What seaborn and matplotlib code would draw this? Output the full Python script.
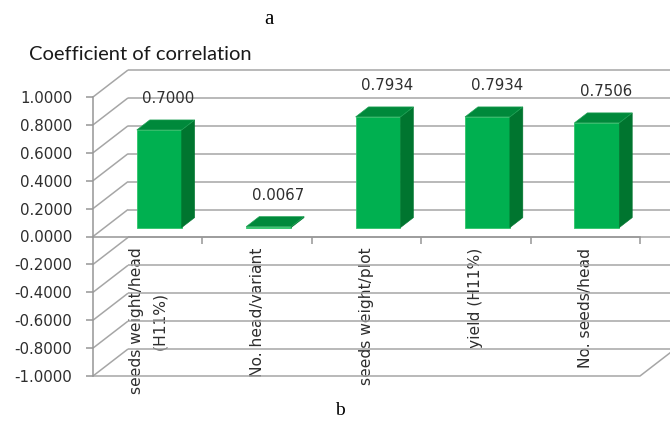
import numpy as np
import pandas as pd
import seaborn as sns
import matplotlib
matplotlib.use("Agg")
import matplotlib.pyplot as plt
from matplotlib.patches import Polygon
from matplotlib.transforms import Affine2D
from matplotlib.ticker import FixedLocator, FormatStrFormatter

# ---- data -----------------------------------------------------------------
categories = ["seeds weight/head\n(H11%)", "No. head/variant", "seeds weight/plot",
              "yield (H11%)", "No. seeds/head"]
correlation = [0.7000, 0.0067, 0.7934, 0.7934, 0.7506]
y_ticks = [-1.0, -0.8, -0.6, -0.4, -0.2, 0.0, 0.2, 0.4, 0.6, 0.8, 1.0]

# ---- style ----------------------------------------------------------------
sns.set_theme(style="white")
plt.rcParams["font.family"] = ["DejaVu Sans"]
plt.rcParams["axes.unicode_minus"] = False

FRONT = "#00B050"
SIDE = "#00752F"
TOP = "#00893B"
GRID = "#A6A6A6"
AXIS = "#969696"
TEXT = "#2E2E2E"

# pseudo-3D depth offset in data units (x: categories, y: value)
DX, DY = 0.32, 0.1935
F0, F1 = 0.33, 0.70   # front / back depth of the columns

fig = plt.figure(figsize=(6.7, 4.21), dpi=100)
ax = fig.add_axes([93 / 670, (421 - 376) / 421, 547 / 670, 279 / 421])

df = pd.DataFrame({"trait": categories, "r": correlation})
sns.barplot(data=df, x="trait", y="r", order=categories, color=FRONT,
            width=0.41, saturation=1, ax=ax, zorder=5)

ax.set_xlim(-0.5, len(categories) - 0.5)
ax.set_ylim(-1, 1)
ax.set_xlabel("")
ax.set_ylabel("")

# walls: back-wall gridlines and side-wall diagonals
x_left, x_right = -0.5, len(categories) - 0.5
for v in y_ticks:
    ax.plot([x_left, x_left + DX], [v, v + DY], color=GRID, lw=1.1,
            clip_on=False, zorder=1, solid_capstyle="butt")
    ax.plot([x_left + DX, x_right + DX + 0.5], [v + DY, v + DY], color=GRID,
            lw=1.1, clip_on=False, zorder=1, solid_capstyle="butt")
# floor edge at the axis minimum
ax.plot([x_left, x_right, x_right + DX], [-1, -1, -1 + DY], color=GRID, lw=1.1,
        clip_on=False, zorder=1)

# columns: shift the front faces into depth, then add side and top faces
d = F1 - F0
shift = Affine2D().translate(F0 * DX, F0 * DY)
for p in ax.patches:
    x0, w, h = p.get_x(), p.get_width(), p.get_height()
    p.set_transform(shift + ax.transData)
    p.set_edgecolor("#2FC46A")
    p.set_linewidth(0.6)
    p.set_clip_on(False)
    x0s, x1s, b = x0 + F0 * DX, x0 + w + F0 * DX, F0 * DY
    side = Polygon([(x1s, b), (x1s + d * DX, b + d * DY),
                    (x1s + d * DX, b + h + d * DY), (x1s, b + h)],
                   closed=True, facecolor=SIDE, edgecolor=SIDE, lw=0.4,
                   zorder=5, clip_on=False)
    top = Polygon([(x0s, b + h), (x0s + d * DX, b + h + d * DY),
                   (x1s + d * DX, b + h + d * DY), (x1s, b + h)],
                  closed=True, facecolor=TOP, edgecolor="#1FA255", lw=0.5,
                  zorder=6, clip_on=False)
    ax.add_patch(side)
    ax.add_patch(top)

# value labels
for i, v in enumerate(correlation):
    ax.text(i + 0.19, v + 0.29, f"{v:.4f}", ha="center", va="center",
            fontsize=10.8, color=TEXT, zorder=7, clip_on=False)

# axes: value axis on the left, category axis crossing at zero
for s in ["top", "right"]:
    ax.spines[s].set_visible(False)
ax.spines["left"].set_color(AXIS)
ax.spines["left"].set_linewidth(1.1)
ax.spines["bottom"].set_position(("data", 0))
ax.spines["bottom"].set_color(AXIS)
ax.spines["bottom"].set_linewidth(1.1)
ax.spines["bottom"].set_zorder(2)

ax.yaxis.set_major_locator(FixedLocator(y_ticks))
ax.yaxis.set_major_formatter(FormatStrFormatter("%.4f"))
ax.tick_params(axis="y", which="major", direction="out", length=5, width=1.1,
               color=AXIS, labelsize=10.8, labelcolor=TEXT, pad=10, left=True)

ax.xaxis.set_minor_locator(FixedLocator([0.5, 1.5, 2.5, 3.5, 4.5]))
ax.tick_params(axis="x", which="minor", direction="out", length=5, width=1.1,
               color=AXIS, bottom=True)
ax.tick_params(axis="x", which="major", length=0, pad=8, labelsize=11.2,
               labelcolor=TEXT, labelrotation=90)
for lab in ax.get_xticklabels():
    lab.set_multialignment("center")
    lab.set_linespacing(1.7)
    lab.set_va("top")
    lab.set_ha("center")

ax.set_facecolor("none")

# chart title and panel letters
fig.text(29 / 670, 1 - 55 / 421, "Coefficient of correlation", ha="left",
         va="center", fontsize=14.5, color="#1A1A1A", family=["Lato", "DejaVu Sans"])
fig.text(269 / 670, 1 - 20 / 421, "a", ha="center", va="center", fontsize=15,
         family=["Liberation Serif", "DejaVu Serif"], color="black")
fig.text(340 / 670, 1 - 402 / 421, "b", ha="center", va="top", fontsize=14,
         family=["Liberation Serif", "DejaVu Serif"], color="black")

fig.savefig("out.png", dpi=100)
